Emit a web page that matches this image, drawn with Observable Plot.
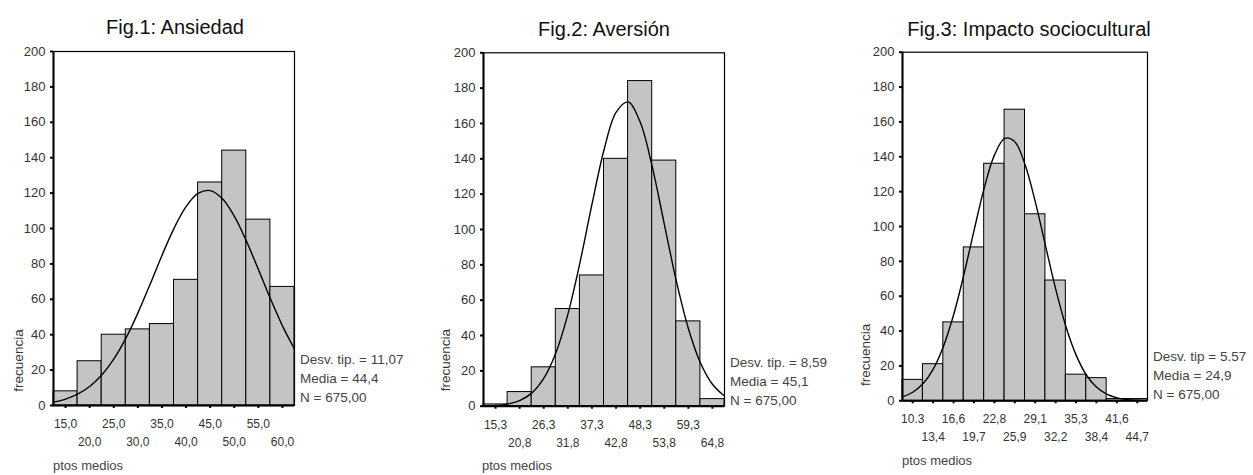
<!DOCTYPE html>
<html><head><meta charset="utf-8">
<script src="https://cdn.jsdelivr.net/npm/d3@7"></script>
<script src="https://cdn.jsdelivr.net/npm/@observablehq/plot@0.6"></script>
<style>
body{margin:0;background:#fff;font-family:"Liberation Sans",Arial,sans-serif;}
#wrap{position:relative;width:1253px;height:475px;overflow:hidden;background:#fff}
.fig{position:absolute;top:0}
.title{position:absolute;font-size:20px;line-height:20px;color:#111;white-space:nowrap;transform:translateX(-50%)}
.stats{position:absolute;font-size:13.5px;line-height:19px;color:#444;white-space:nowrap}
.xl{position:absolute;font-size:13px;line-height:14px;color:#444;white-space:nowrap}
</style>
</head><body>
<div id="wrap"></div>
<script>
// ---------- data ----------
const yTicks = [0, 20, 40, 60, 80, 100, 120, 140, 160, 180, 200];
const yLabel = "frecuencia";
const xLabel = "ptos medios";

const fig1Title = "Fig.1: Ansiedad";
const fig1Mids = [15, 20, 25, 30, 35, 40, 45, 50, 55, 60];
const fig1Labels = ["15,0", "20,0", "25,0", "30,0", "35,0", "40,0", "45,0", "50,0", "55,0", "60,0"];
const fig1Counts = [8, 25, 40, 43, 46, 71, 126, 144, 105, 67];
const fig1CurveX = [12.5, 15, 17.5, 20, 22.5, 25, 27.5, 30, 32.5, 35, 37.5, 40, 42.5, 45, 47.5, 50, 52.5, 55, 57.5, 60, 62.5];
const fig1CurveY = [1.9, 3.6, 6.4, 10.7, 17.2, 26.2, 37.9, 52.2, 68.2, 84.8, 100.1, 112.4, 119.8, 121.4, 116.9, 107, 93, 76.9, 60.4, 45, 31.9];
const fig1Stats = ["Desv. tip. = 11,07", "Media = 44,4", "N = 675,00"];

const fig2Title = "Fig.2: Aversión";
const fig2Mids = [15.3, 20.8, 26.3, 31.8, 37.3, 42.8, 48.3, 53.8, 59.3, 64.8];
const fig2Labels = ["15,3", "20,8", "26,3", "31,8", "37,3", "42,8", "48,3", "53,8", "59,3", "64,8"];
const fig2Counts = [1, 8, 22, 55, 74, 140, 184, 139, 48, 4];
const fig2CurveX = [12.55, 15.3, 18.05, 20.8, 23.55, 26.3, 29.05, 31.8, 34.55, 37.3, 40.05, 42.8, 45.55, 48.3, 51.05, 53.8, 56.55, 59.3, 62.05, 64.8, 67.55];
const fig2CurveY = [0.1, 0.4, 1.2, 3.2, 7.4, 15.7, 30.1, 52, 81.1, 114.2, 145, 166.3, 172.2, 160.8, 135.6, 103.2, 70.9, 44, 24.6, 12.4, 5.7];
const fig2Stats = ["Desv. tip. = 8,59", "Media = 45,1", "N = 675,00"];

const fig3Title = "Fig.3: Impacto sociocultural";
const fig3Mids = [10.3, 13.4, 16.6, 19.7, 22.8, 25.9, 29.1, 32.2, 35.3, 38.4, 41.6, 44.7];
const fig3Labels = ["10.3", "13,4", "16,6", "19,7", "22,8", "25,9", "29,1", "32,2", "35,3", "38,4", "41,6", "44,7"];
const fig3Counts = [12, 21, 45, 88, 136, 167, 107, 69, 15, 13, 1, 1];
const fig3CurveX = [8.7, 10.3, 11.9, 13.4, 15.0, 16.6, 18.1, 19.7, 21.2, 22.8, 24.4, 25.9, 27.5, 29.1, 30.6, 32.2, 33.8, 35.3, 36.9, 38.4, 40.0, 41.6, 43.1, 44.7, 46.3];
const fig3CurveY = [2.2, 4.9, 9.9, 17.9, 31.2, 49.8, 71.8, 97.8, 121.3, 140.8, 150.6, 148.8, 135.6, 113.8, 89.6, 64.1, 42.2, 26.5, 14.8, 8.0, 3.8, 1.7, 0.7, 0.3, 0.1];
const fig3Stats = ["Desv. tip = 5.57", "Media = 24,9", "N = 675,00"];

// ---------- layout ----------
const layouts = [
  {left: 0, width: 300, frameLeft: 53, frameRight: 294, top: 51, bottom: 405, titleX: 175, titleTop: 17, statsLeft: 300, statsTop: 350, xlLeft: 53, xlTop: 459, ylDx: -35, ylDy: -45},
  {left: 420, width: 310, frameLeft: 483, frameRight: 724, top: 52.3, bottom: 405.7, titleX: 604, titleTop: 19, statsLeft: 730, statsTop: 353, xlLeft: 482, xlTop: 459, ylDx: -38, ylDy: -46},
  {left: 840, width: 313, frameLeft: 902, frameRight: 1147, top: 51.7, bottom: 400.3, titleX: 1029, titleTop: 19, statsLeft: 1153, statsTop: 347, xlLeft: 902, xlTop: 454, ylDx: -37, ylDy: -46}
];

const figs = [
  {title: fig1Title, mids: fig1Mids, labels: fig1Labels, counts: fig1Counts, cx: fig1CurveX, cy: fig1CurveY, stats: fig1Stats},
  {title: fig2Title, mids: fig2Mids, labels: fig2Labels, counts: fig2Counts, cx: fig2CurveX, cy: fig2CurveY, stats: fig2Stats},
  {title: fig3Title, mids: fig3Mids, labels: fig3Labels, counts: fig3Counts, cx: fig3CurveX, cy: fig3CurveY, stats: fig3Stats}
];

const wrap = document.getElementById("wrap");

figs.forEach((f, k) => {
  const L = layouts[k];
  const n = f.mids.length;
  const start = f.mids[0];
  const step = (f.mids[n - 1] - f.mids[0]) / (n - 1);
  const pos = f.mids.map((_, i) => start + i * step);
  const bars = f.counts.map((c, i) => ({x1: pos[i] - step / 2, x2: pos[i] + step / 2, y: c}));
  const curve = f.cx.map((x, i) => ({x, y: f.cy[i]}));
  const labelOf = new Map(pos.map((p, i) => [p, f.labels[i]]));
  const row1 = pos.filter((_, i) => i % 2 === 0);
  const row2 = pos.filter((_, i) => i % 2 === 1);
  const lo = start - step / 2, hi = pos[n - 1] + step / 2;

  const chart = Plot.plot({
    width: L.width,
    height: 475,
    marginLeft: L.frameLeft - L.left,
    marginRight: L.left + L.width - L.frameRight,
    marginTop: L.top,
    marginBottom: 475 - L.bottom,
    style: {fontFamily: "Liberation Sans, Arial, sans-serif", background: "transparent", overflow: "visible"},
    x: {domain: [lo, hi]},
    y: {domain: [0, 200]},
    marks: [
      Plot.rectY(bars, {x1: "x1", x2: "x2", y: "y", fill: "#c4c4c4", stroke: "black", strokeWidth: 1}),
      Plot.line(curve, {x: "x", y: "y", curve: "catmull-rom", stroke: "black", strokeWidth: 1.4, clip: true}),
      Plot.frame({stroke: "black", strokeWidth: 1.2}),
      Plot.ruleX([lo], {stroke: "black", strokeWidth: 2}),
      Plot.ruleY([0], {stroke: "black", strokeWidth: 2}),
      Plot.axisY({ticks: yTicks, tickSize: 3, tickPadding: 5, strokeWidth: 2, stroke: "black", fill: "#333", fontSize: 13, label: null}),
      Plot.axisX({ticks: row1, tickFormat: d => labelOf.get(d), tickSize: 3, tickPadding: 11, strokeWidth: 2, stroke: "black", fill: "#333", fontSize: 12, label: null}),
      Plot.axisX({ticks: row2, tickFormat: d => labelOf.get(d), tickSize: 3, tickPadding: 29, strokeWidth: 2, stroke: "black", fill: "#333", fontSize: 12, label: null}),
      Plot.text([yLabel], {text: d => d, frameAnchor: "bottom-left", dx: L.ylDx, dy: L.ylDy, rotate: -90, textAnchor: "middle", lineAnchor: "middle", fontSize: 13.5, fill: "#333"})
    ]
  });
  chart.classList.add("fig");
  chart.style.left = L.left + "px";
  wrap.appendChild(chart);

  const t = document.createElement("div");
  t.className = "title";
  t.textContent = f.title;
  t.style.left = L.titleX + "px";
  t.style.top = L.titleTop + "px";
  wrap.appendChild(t);

  const s = document.createElement("div");
  s.className = "stats";
  s.innerHTML = f.stats.map(x => `<div>${x}</div>`).join("");
  s.style.left = L.statsLeft + "px";
  s.style.top = L.statsTop + "px";
  wrap.appendChild(s);

  const xl = document.createElement("div");
  xl.className = "xl";
  xl.textContent = xLabel;
  xl.style.left = L.xlLeft + "px";
  xl.style.top = L.xlTop + "px";
  wrap.appendChild(xl);
});
</script>
</body></html>
